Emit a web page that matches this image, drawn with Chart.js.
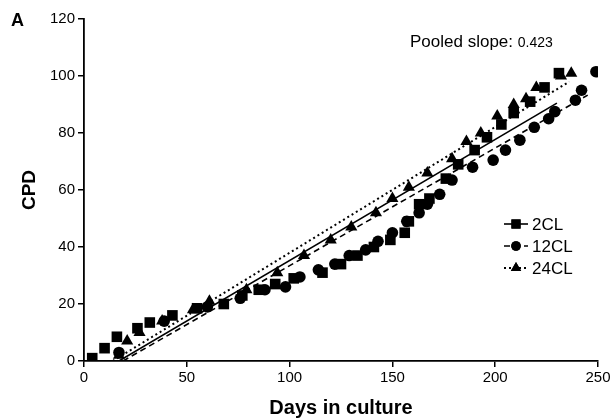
<!DOCTYPE html>
<html>
<head>
<meta charset="utf-8">
<script src="https://cdn.jsdelivr.net/npm/chart.js@4.4.1/dist/chart.umd.min.js"></script>
<style>
  html, body { margin: 0; padding: 0; background: #fff; }
  #wrap { position: relative; width: 615px; height: 419px; }
</style>
</head>
<body>
<div id="wrap"><canvas id="cpdChart" width="615" height="419"></canvas></div>
<script>
// 2CL (squares)
const days2CL = [4, 10, 16, 26, 32, 43, 55, 68, 77, 85, 93, 102, 116, 125, 133, 141, 149, 156, 158, 163, 168, 176, 182, 190, 196, 203, 209, 217, 224, 231];
const cpd2CL  = [1, 4.5, 8.5, 11.5, 13.5, 16, 18.5, 20, 23, 25, 27, 29, 31, 34, 37, 40, 42.5, 45, 49, 55, 57, 64, 69, 74, 78.5, 83, 87, 91, 96, 101];

// 12CL (circles)
const days12CL = [17, 39, 60, 76, 88, 98, 105, 114, 122, 129, 137, 143, 150, 157, 163, 167, 173, 179, 189, 199, 205, 212, 219, 226, 229, 239, 242, 249];
const cpd12CL  = [3, 14, 19, 22, 25, 26, 29.5, 32, 34, 37, 39, 42, 45, 49, 52, 55, 58.5, 63.5, 68, 70.5, 74, 77.5, 82, 85, 87.5, 91.5, 95, 101.5];

// 24CL (triangles)
const days24CL = [17, 21, 27, 38, 53, 61, 79, 94, 107, 120, 130, 142, 150, 158, 167, 179, 186, 193, 201, 209, 215, 220, 232, 237];
const cpd24CL  = [2, 7, 10, 14, 18, 21, 25, 31, 37, 42.5, 47, 52, 57, 61, 66, 71, 77, 80, 86, 90, 92, 96, 100, 101];

// fitted lines: [start, end]
const fitDays2CL = [17, 230];
const fitCpd2CL = [0, 90.5];
const fitDays12CL = [19, 245];
const fitCpd12CL = [0, 93.3];
const fitDays24CL = [14, 236];
const fitCpd24CL = [0, 98];

const xTicks = [0, 50, 100, 150, 200, 250];
const yTicks = [0, 20, 40, 60, 80, 100, 120];
const seriesNames = ['2CL', '12CL', '24CL'];
const pooledSlope = '0.423';

const FONT = "'Liberation Sans', Arial, sans-serif";

function toPoints(xs, ys) {
  return xs.map((x, i) => ({ x: x, y: ys[i] }));
}

function markerSet(label, xs, ys, style, radius) {
  return {
    label: label,
    type: 'scatter',
    data: toPoints(xs, ys),
    pointStyle: style,
    pointRadius: radius,
    pointBackgroundColor: '#000',
    pointBorderColor: '#000',
    pointBorderWidth: 0,
    showLine: false,
    order: 1
  };
}

function fitSet(label, xs, ys, dash, width) {
  return {
    label: label,
    type: 'line',
    data: toPoints(xs, ys),
    borderColor: '#000',
    borderWidth: width,
    borderDash: dash,
    pointRadius: 0,
    fill: false,
    order: 10
  };
}

const lineStyles = [
  { dash: [], width: 1.6 },
  { dash: [6, 4], width: 1.6 },
  { dash: [2, 3], width: 2 }
];
const markerStyles = [
  { style: 'rect', radius: 7.5 },
  { style: 'circle', radius: 5.8 },
  { style: 'triangle', radius: 7 }
];

// legend, panel letter and slope note
const notesPlugin = {
  id: 'notes',
  afterDraw(chart) {
    const ctx = chart.ctx;
    ctx.save();
    ctx.fillStyle = '#000';
    ctx.textBaseline = 'middle';

    ctx.font = "bold 18px " + FONT;
    ctx.fillText('A', 11, 21);

    ctx.font = "17px " + FONT;
    ctx.fillText('Pooled slope: ', 410, 42);
    const w = ctx.measureText('Pooled slope: ').width;
    ctx.font = "14px " + FONT;
    ctx.fillText(pooledSlope, 410 + w, 43);

    const rows = [224, 246, 268];
    seriesNames.forEach((name, i) => {
      const y = rows[i];
      ctx.strokeStyle = '#000';
      ctx.lineWidth = lineStyles[i].width;
      ctx.setLineDash(lineStyles[i].dash);
      ctx.beginPath();
      ctx.moveTo(504, y);
      ctx.lineTo(528, y);
      ctx.stroke();
      ctx.setLineDash([]);
      Chart.helpers.drawPoint(ctx, {
        pointStyle: markerStyles[i].style,
        radius: markerStyles[i].radius - 1,
        borderWidth: 0
      }, 516, y);
      ctx.fill();
      ctx.font = "17px " + FONT;
      ctx.fillText(name, 532, y + 1);
    });
    ctx.restore();
  }
};

const ctx = document.getElementById('cpdChart').getContext('2d');
const myChart = new Chart(ctx, {
  data: {
    datasets: [
      markerSet(seriesNames[0], days2CL, cpd2CL, markerStyles[0].style, markerStyles[0].radius),
      markerSet(seriesNames[1], days12CL, cpd12CL, markerStyles[1].style, markerStyles[1].radius),
      markerSet(seriesNames[2], days24CL, cpd24CL, markerStyles[2].style, markerStyles[2].radius),
      fitSet('fit 2CL', fitDays2CL, fitCpd2CL, lineStyles[0].dash, lineStyles[0].width),
      fitSet('fit 12CL', fitDays12CL, fitCpd12CL, lineStyles[1].dash, lineStyles[1].width),
      fitSet('fit 24CL', fitDays24CL, fitCpd24CL, lineStyles[2].dash, lineStyles[2].width)
    ]
  },
  options: {
    responsive: false,
    animation: false,
    layout: { padding: { top: 19, right: 17, left: 0, bottom: 0 } },
    plugins: {
      legend: { display: false },
      tooltip: { enabled: false }
    },
    scales: {
      x: {
        type: 'linear',
        min: 0,
        max: 250,
        afterBuildTicks: (scale) => { scale.ticks = xTicks.map(v => ({ value: v })); },
        afterFit: (scale) => { scale.height = 58; },
        ticks: { color: '#000', font: { family: FONT, size: 15 }, padding: 2 },
        grid: { drawOnChartArea: false, drawTicks: true, tickLength: 6, color: '#000', lineWidth: 1.5 },
        border: { display: true, color: '#000', width: 1.8 },
        title: {
          display: true,
          text: 'Days in culture',
          color: '#000',
          font: { family: FONT, size: 20, weight: 'bold' },
          padding: { top: 0, bottom: -1 }
        }
      },
      y: {
        type: 'linear',
        min: 0,
        max: 120,
        afterBuildTicks: (scale) => { scale.ticks = yTicks.map(v => ({ value: v })); },
        afterFit: (scale) => { scale.width = 84; },
        ticks: { color: '#000', font: { family: FONT, size: 15 }, padding: 3 },
        grid: { drawOnChartArea: false, drawTicks: true, tickLength: 6, color: '#000', lineWidth: 1.5 },
        border: { display: true, color: '#000', width: 1.8 },
        title: {
          display: true,
          text: 'CPD',
          color: '#000',
          font: { family: FONT, size: 19, weight: 'bold' },
          padding: { top: 18, bottom: 0 }
        }
      }
    }
  },
  plugins: [notesPlugin]
});
</script>
</body>
</html>
